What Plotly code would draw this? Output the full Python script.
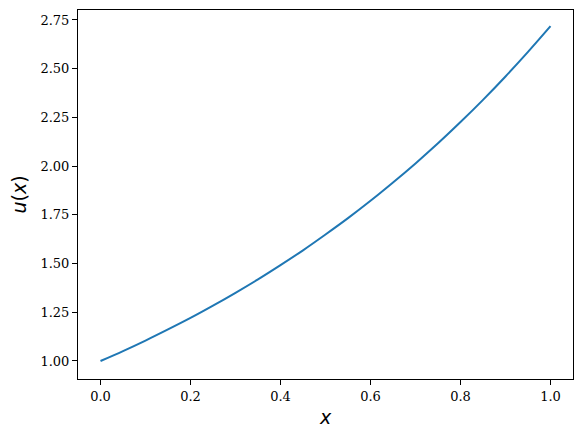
import plotly.graph_objects as go

x_vals = [0.0, 0.05, 0.1, 0.15, 0.2, 0.25, 0.3, 0.35, 0.4, 0.45, 0.5,
          0.55, 0.6, 0.65, 0.7, 0.75, 0.8, 0.85, 0.9, 0.95, 1.0]
u_vals = [1.000, 1.051, 1.105, 1.162, 1.221, 1.284, 1.350, 1.419, 1.492, 1.568, 1.649,
          1.733, 1.822, 1.916, 2.014, 2.117, 2.226, 2.340, 2.460, 2.586, 2.718]

x_ticks = [0.0, 0.2, 0.4, 0.6, 0.8, 1.0]
y_ticks = [1.00, 1.25, 1.50, 1.75, 2.00, 2.25, 2.50, 2.75]

fig = go.Figure()
fig.add_trace(
    go.Scatter(
        x=x_vals,
        y=u_vals,
        mode='lines',
        line=dict(color='#1f77b4', width=2, shape='spline'),
        showlegend=False,
    )
)

axis_common = dict(
    showgrid=False,
    zeroline=False,
    showline=True,
    linecolor='black',
    linewidth=1,
    mirror=True,
    ticks='outside',
    ticklen=5,
    tickwidth=1,
    tickcolor='black',
    automargin=False,
    tickfont=dict(family='DejaVu Serif', size=13, color='black'),
)

# page body has an 8px default margin, so the figure is a bit smaller
fig.update_layout(
    width=575,
    height=428,
    margin=dict(l=70, r=10, t=2, b=57),
    plot_bgcolor='white',
    paper_bgcolor='white',
    xaxis=dict(
        range=[-0.05, 1.05],
        tickvals=x_ticks,
        ticktext=[f'{v:.1f}' for v in x_ticks],
        title=dict(text='<i>x</i>', font=dict(family='DejaVu Sans', size=19, color='black'), standoff=8),
        **axis_common,
    ),
    yaxis=dict(
        range=[0.9076, 2.801],
        tickvals=y_ticks,
        ticktext=[f'{v:.2f}' for v in y_ticks],
        title=dict(text='<i>u</i>(<i>x</i>)', font=dict(family='DejaVu Sans', size=19, color='black'), standoff=8),
        **axis_common,
    ),
)

fig.write_html("out.html")
